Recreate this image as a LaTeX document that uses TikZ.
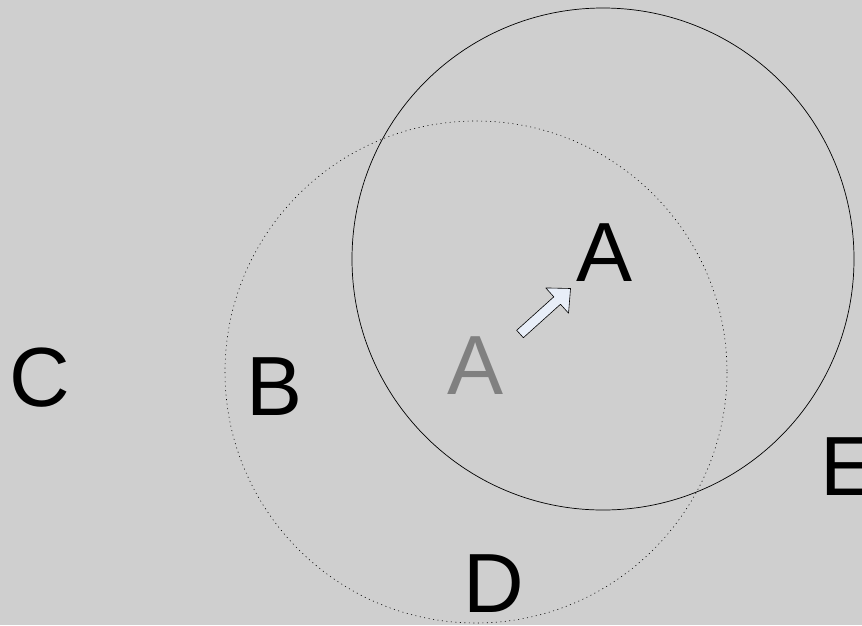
\documentclass[tikz,border=0pt]{standalone}
\usepackage{fontspec}
\setmainfont{Liberation Sans}
\usetikzlibrary{positioning}
\definecolor{bggray}{HTML}{CFCFCF}
\definecolor{oldgray}{HTML}{808080}
\definecolor{arrowfill}{HTML}{E8EEF8}

\begin{document}
\begin{tikzpicture}[x=1pt,y=-1pt,line width=0.8pt,
  letter/.style={inner sep=0pt,font=\fontsize{84}{84}\selectfont}]
% ---------- background (pixel frame 862 x 625) ----------
\fill[bggray] (0,0) rectangle (862,625);
\useasboundingbox (0,0) rectangle (862,625);
% ---------- old and new range ----------
\draw[line width=0.6pt,dash pattern=on 1pt off 3.5pt] (476,372) circle (251);
\draw[line width=0.7pt] (603,259) circle (251);
% ---------- labels ----------
\node[letter] (c) at (40,378) {C};
\node[letter] (b) at (275,387) {B};
\node[letter] (d) at (494,584) {D};
\node[letter] (e) at (849,467) {E};
\node[letter,text=oldgray] (aold) at (476,366) {A};
\node[letter] (anew) at (605,253) {A};
% ---------- move arrow (hollow) ----------
\begin{scope}[shift={(520,334)},rotate=42]
\draw[fill=arrowfill,line width=0.6pt,line join=round]
  (0,-5) -- (50,-5) -- (50,-17) -- (68,0) -- (50,17) -- (50,5) -- (0,5) -- cycle;
\end{scope}
\end{tikzpicture}
\end{document}
